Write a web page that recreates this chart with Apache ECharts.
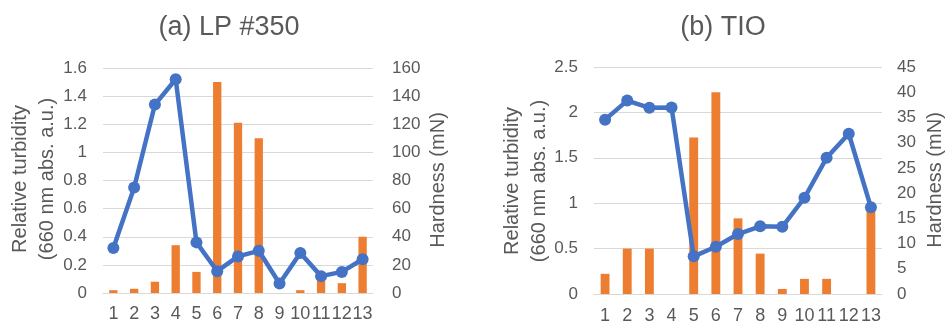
<!DOCTYPE html>
<html>
<head>
<meta charset="utf-8">
<script src="https://cdn.jsdelivr.net/npm/echarts@6/dist/echarts.min.js"></script>
<style>
  html, body { margin: 0; padding: 0; background: #fff; }
  #chart { width: 946px; height: 322px; }
</style>
</head>
<body>
<div id="chart"></div>
<script>
// Sample numbers along the x axis
const categories = ['1', '2', '3', '4', '5', '6', '7', '8', '9', '10', '11', '12', '13'];

// (a) LP #350
const lpTurbidity = [0.32, 0.75, 1.34, 1.52, 0.36, 0.155, 0.26, 0.30, 0.067, 0.285, 0.12, 0.15, 0.24];
const lpHardness = [2, 3, 8, 34, 15, 150, 121, 110, 0, 2, 10, 7, 40];

// (b) TIO
const tioTurbidity = [1.92, 2.13, 2.05, 2.055, 0.415, 0.52, 0.66, 0.745, 0.74, 1.06, 1.50, 1.765, 0.955];
const tioHardness = [4, 9, 9, 0, 31, 40, 15, 8, 1, 3, 3, 0, 17];

const titles = ['(a) LP #350', '(b) TIO'];
const turbidityName = 'Relative turbidity\n(660 nm abs. a.u.)';
const hardnessName = 'Hardness (mN)';

const FONT = '"Liberation Sans", Arial, sans-serif';
const TEXT = '#595959';
const GRID = '#D9D9D9';
const BLUE = '#4472C4';
const ORANGE = '#ED7D31';

const chart = echarts.init(document.getElementById('chart'), null, { renderer: 'canvas' });

function xAxis(gridIndex, margin) {
  return {
    type: 'category', gridIndex, data: categories,
    axisLine: { lineStyle: { color: GRID, width: 1 } },
    axisTick: { show: false },
    axisLabel: { interval: 0, color: TEXT, fontSize: 18, fontFamily: FONT, margin }
  };
}

function yAxis(gridIndex, position, max, interval, margin, grid) {
  return {
    type: 'value', gridIndex, position, min: 0, max, interval,
    axisLine: { show: false }, axisTick: { show: false },
    axisLabel: { color: TEXT, fontSize: 17, fontFamily: FONT, margin },
    splitLine: { show: grid, lineStyle: { color: GRID, width: 1 } }
  };
}

function vText(x, y, text) {
  return {
    type: 'text', x, y, rotation: Math.PI / 2,
    style: {
      text, fill: TEXT, font: '20px ' + FONT,
      align: 'center', verticalAlign: 'middle', lineHeight: 27
    }
  };
}

const barStyle = { color: ORANGE };
const lineSeries = (xi, yi, data) => ({
  type: 'line', xAxisIndex: xi, yAxisIndex: yi, data,
  symbol: 'circle', symbolSize: 12, z: 5,
  lineStyle: { color: BLUE, width: 4.5 },
  itemStyle: { color: BLUE }
});

chart.setOption({
  animation: false,
  backgroundColor: '#fff',
  textStyle: { fontFamily: FONT },
  grid: [
    { left: 103, right: 573, top: 68, bottom: 29, outerBoundsMode: 'none', containLabel: false },
    { left: 594, right: 64, top: 67, bottom: 28, outerBoundsMode: 'none', containLabel: false }
  ],
  xAxis: [xAxis(0, 12), xAxis(1, 13)],
  yAxis: [
    yAxis(0, 'left', 1.6, 0.2, 16, true),
    yAxis(0, 'right', 160, 20, 19, false),
    yAxis(1, 'left', 2.5, 0.5, 16, true),
    yAxis(1, 'right', 45, 5, 15, false)
  ],
  series: [
    { type: 'bar', xAxisIndex: 0, yAxisIndex: 1, data: lpHardness, barWidth: '40%', itemStyle: barStyle, z: 2 },
    lineSeries(0, 0, lpTurbidity),
    { type: 'bar', xAxisIndex: 1, yAxisIndex: 3, data: tioHardness, barWidth: '40%', itemStyle: barStyle, z: 2 },
    lineSeries(1, 2, tioTurbidity)
  ],
  graphic: [
    { type: 'text', x: 229, y: 28, style: { text: titles[0], fill: TEXT, font: '27px ' + FONT, align: 'center', verticalAlign: 'middle' } },
    { type: 'text', x: 723, y: 28, style: { text: titles[1], fill: TEXT, font: '27px ' + FONT, align: 'center', verticalAlign: 'middle' } },
    vText(34, 179, turbidityName),
    vText(438, 180, hardnessName),
    vText(526, 181, turbidityName),
    vText(935, 180, hardnessName)
  ]
});
</script>
</body>
</html>
